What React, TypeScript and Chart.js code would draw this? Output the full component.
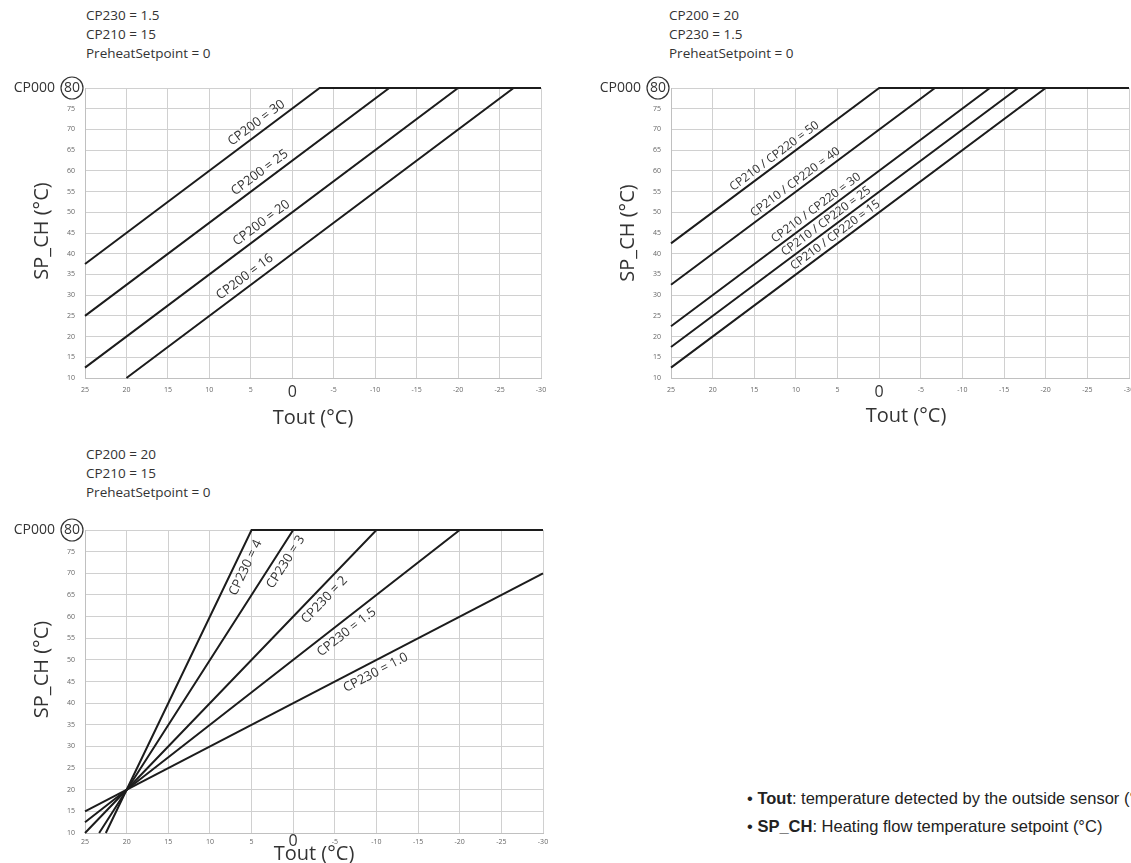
import React, { useEffect, useRef } from 'react';
import { Chart, registerables } from 'chart.js';

Chart.register(...registerables);

const FONT = '"Open Sans", "Noto Sans", sans-serif';

// shared axis values
const toutMin = -30;
const toutMax = 25;
const spMin = 10;
const cp000 = 80;
const tickStep = 5;

// Chart 1: varying CP200
const c1Header = ['CP230 = 1.5', 'CP210 = 15', 'PreheatSetpoint = 0'];
const c1Names = ['CP200 = 30', 'CP200 = 25', 'CP200 = 20', 'CP200 = 16'];
const c1StartX = [25, 25, 25, 20];
const c1StartY = [37.5, 25, 12.5, 10];
const c1KneeX = [-3.3, -11.7, -20, -26.7];
const c1KneeY = [80, 80, 80, 80];
const c1LabelX = [3.6, 3.2, 3.0, 5.0];

// Chart 2: varying CP210 / CP220
const c2Header = ['CP200 = 20', 'CP230 = 1.5', 'PreheatSetpoint = 0'];
const c2Names = ['CP210 / CP220 = 50', 'CP210 / CP220 = 40', 'CP210 / CP220 = 30', 'CP210 / CP220 = 25', 'CP210 / CP220 = 15'];
const c2StartX = [25, 25, 25, 25, 25];
const c2StartY = [42.5, 32.5, 22.5, 17.5, 12.5];
const c2KneeX = [0, -6.7, -13.3, -16.7, -20];
const c2KneeY = [80, 80, 80, 80, 80];
const c2LabelX = [12, 9.5, 7, 5.8, 4.7];

// Chart 3: varying CP230
const c3Header = ['CP200 = 20', 'CP210 = 15', 'PreheatSetpoint = 0'];
const c3Names = ['CP230 = 4', 'CP230 = 3', 'CP230 = 2', 'CP230 = 1.5', 'CP230 = 1.0'];
const c3StartX = [22.5, 23.3, 25, 25, 25];
const c3StartY = [10, 10, 10, 12.5, 15];
const c3KneeX = [5, 0, -10, -20, -30];
const c3KneeY = [80, 80, 80, 80, 70];
const c3LabelX = [6.9, 2.0, -2.8, -5.6, -9.3];

function buildDatasets(startX: number[], startY: number[], kneeX: number[], kneeY: number[]) {
  return startX.map((sx, i) => {
    const pts = [
      { x: sx, y: startY[i] },
      { x: kneeX[i], y: kneeY[i] },
    ];
    if (kneeX[i] > toutMin) pts.push({ x: toutMin, y: cp000 });
    return {
      data: pts,
      borderColor: '#1c1c1c',
      borderWidth: 2,
      pointRadius: 0,
      fill: false,
      tension: 0,
      clip: false as any,
    };
  });
}

const decorPlugin = {
  id: 'decor',
  afterDraw(chart: any, _args: any, opts: any) {
    const ctx = chart.ctx;
    const area = chart.chartArea;
    const xs = chart.scales.x;
    const ys = chart.scales.y;
    ctx.save();
    // CP000 with circled 80
    const y80 = ys.getPixelForValue(cp000);
    const cx = area.left - 13;
    ctx.fillStyle = '#333';
    ctx.font = `14px ${FONT}`;
    ctx.textAlign = 'right';
    ctx.textBaseline = 'middle';
    ctx.fillText('CP000', area.left - 30, y80);
    ctx.beginPath();
    ctx.arc(cx, y80, 11, 0, Math.PI * 2);
    ctx.strokeStyle = '#333';
    ctx.lineWidth = 1.2;
    ctx.stroke();
    ctx.textAlign = 'center';
    ctx.fillText(String(cp000), cx, y80 + 0.5);

    // big zero tick on Tout axis
    ctx.font = `16px ${FONT}`;
    ctx.fillStyle = '#333';
    ctx.textAlign = 'center';
    ctx.textBaseline = 'middle';
    ctx.fillText('0', xs.getPixelForValue(0), area.bottom + opts.zeroDy);

    // y title
    ctx.save();
    ctx.translate(area.left - 43, (area.top + area.bottom) / 2 + (opts.yTitleDy || 0));
    ctx.rotate(-Math.PI / 2);
    ctx.font = `20px ${FONT}`;
    ctx.fillStyle = '#333';
    ctx.textAlign = 'center';
    ctx.textBaseline = 'middle';
    ctx.fillText('SP_CH (°C)', 0, 0);
    ctx.restore();

    // x title
    ctx.font = `20px ${FONT}`;
    ctx.fillStyle = '#333';
    ctx.textAlign = 'center';
    ctx.textBaseline = 'middle';
    ctx.fillText('Tout (°C)', (area.left + area.right) / 2 + (opts.xTitleDx || 0), area.bottom + opts.xTitleDy);

    // line labels
    ctx.font = `${opts.labelSize}px ${FONT}`;
    ctx.fillStyle = '#333';
    opts.names.forEach((name: string, i: number) => {
      const pts = chart.data.datasets[i].data;
      const at = opts.labelX[i];
      let seg = 0;
      for (let k = 0; k < pts.length - 1; k++) {
        const a = pts[k], b = pts[k + 1];
        if ((at <= a.x && at >= b.x) || (at >= a.x && at <= b.x)) { seg = k; break; }
      }
      const a = pts[seg], b = pts[seg + 1];
      const ax = xs.getPixelForValue(a.x), ay = ys.getPixelForValue(a.y);
      const bx = xs.getPixelForValue(b.x), by = ys.getPixelForValue(b.y);
      const t = (at - a.x) / (b.x - a.x);
      const px = ax + t * (bx - ax);
      const py = ay + t * (by - ay);
      const ang = Math.atan2(by - ay, bx - ax);
      const nx = Math.sin(ang), ny = -Math.cos(ang);
      const off = opts.side * opts.offset;
      ctx.save();
      ctx.translate(px + nx * off, py + ny * off);
      ctx.rotate(ang);
      ctx.textAlign = 'center';
      ctx.textBaseline = 'middle';
      ctx.fillText(name, 0, 0);
      ctx.restore();
    });
    ctx.restore();
  },
};

type PanelProps = {
  left: number; top: number; width: number; height: number;
  padTop: number; padRight: number; yAxisW: number; xAxisH: number; xTickPad: number;
  datasets: any[]; decor: any;
};

function Panel(p: PanelProps) {
  const ref = useRef<HTMLCanvasElement | null>(null);
  useEffect(() => {
    if (!ref.current) return;
    const gridColor = '#d0d0d0';
    const chart = new Chart(ref.current, {
      type: 'line',
      data: { datasets: p.datasets },
      options: {
        animation: false,
        responsive: false,
        layout: { padding: { top: p.padTop, right: p.padRight, bottom: 0, left: 0 } },
        plugins: {
          legend: { display: false },
          tooltip: { enabled: false },
          decor: p.decor,
        } as any,
        scales: {
          x: {
            type: 'linear',
            min: toutMin,
            max: toutMax,
            reverse: true,
            afterFit: (s: any) => { s.height = p.xAxisH; },
            grid: { color: gridColor, drawTicks: false, lineWidth: 1 },
            border: { color: '#c0c0c0' },
            ticks: {
              stepSize: tickStep,
              autoSkip: false,
              maxRotation: 0,
              padding: p.xTickPad,
              color: '#666',
              font: { size: 7, family: FONT },
              callback: (v: any) => (v === 0 ? '' : String(v)),
            },
          },
          y: {
            type: 'linear',
            min: spMin,
            max: cp000,
            afterFit: (s: any) => { s.width = p.yAxisW; },
            grid: { color: gridColor, drawTicks: false, lineWidth: 1 },
            border: { color: '#c0c0c0' },
            ticks: {
              stepSize: tickStep,
              padding: 10,
              color: '#666',
              font: { size: 7, family: FONT },
              callback: (v: any) => (v === cp000 ? '' : String(v)),
            },
          },
        },
      } as any,
      plugins: [decorPlugin],
    });
    return () => chart.destroy();
  }, []);
  return (
    <canvas
      ref={ref}
      width={p.width}
      height={p.height}
      style={{ position: 'absolute', left: p.left, top: p.top, width: p.width, height: p.height }}
    />
  );
}

function Header({ lines, left, top }: { lines: string[]; left: number; top: number }) {
  return (
    <div style={{ position: 'absolute', left, top, fontFamily: FONT, fontSize: 13.5, lineHeight: '19px', color: '#333', whiteSpace: 'nowrap' }}>
      {lines.map((l, i) => (<div key={i}>{l}</div>))}
    </div>
  );
}

export default function App() {
  return (
    <div style={{ position: 'fixed', left: 0, top: 0, width: 1131, height: 863, overflow: 'hidden', background: '#fff' }}>
      <Header lines={c1Header} left={86} top={6} />
      <Header lines={c2Header} left={669} top={6} />
      <Header lines={c3Header} left={86} top={445} />
      <Panel
        left={0} top={70} width={560} height={362}
        padTop={18} padRight={19} yAxisW={85} xAxisH={54} xTickPad={8}
        datasets={buildDatasets(c1StartX, c1StartY, c1KneeX, c1KneeY)}
        decor={{ names: c1Names, labelX: c1LabelX, side: 1, offset: 10, labelSize: 13, xTitleDy: 40, zeroDy: 14, yTitleDy: -2 }}
      />
      <Panel
        left={585} top={70} width={560} height={362}
        padTop={18} padRight={16} yAxisW={86} xAxisH={54} xTickPad={8}
        datasets={buildDatasets(c2StartX, c2StartY, c2KneeX, c2KneeY)}
        decor={{ names: c2Names, labelX: c2LabelX, side: 1, offset: 8, labelSize: 12, xTitleDy: 38, xTitleDx: 6, zeroDy: 14 }}
      />
      <Panel
        left={0} top={508} width={560} height={355}
        padTop={22} padRight={17} yAxisW={85} xAxisH={30} xTickPad={5}
        datasets={buildDatasets(c3StartX, c3StartY, c3KneeX, c3KneeY)}
        decor={{ names: c3Names, labelX: c3LabelX, side: -1, offset: 11, labelSize: 13, xTitleDy: 21, zeroDy: 8, yTitleDy: -12 }}
      />
      <div style={{ position: 'absolute', left: 747, top: 784, fontFamily: '"Liberation Sans", Arial, sans-serif', fontSize: 16.5, lineHeight: '28px', color: '#222', whiteSpace: 'nowrap' }}>
        <div>• <b>Tout</b>: temperature detected by the outside sensor (°C)</div>
        <div>• <b>SP_CH</b>: Heating flow temperature setpoint (°C)</div>
      </div>
    </div>
  );
}
